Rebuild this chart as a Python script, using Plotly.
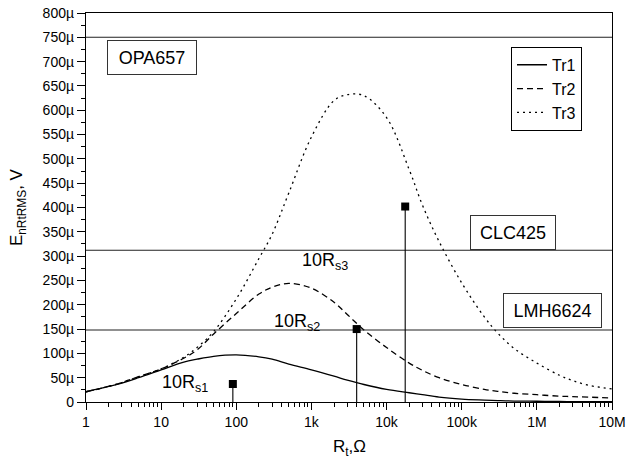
import plotly.graph_objects as go

# ---- data ----
rt = [1, 2, 3, 5, 10, 20, 30, 50, 100, 200, 300, 500, 1e3, 2e3, 3e3, 5e3,
      1e4, 2e4, 3e4, 5e4, 1e5, 2e5, 3e5, 5e5, 1e6, 2e6, 3e6, 5e6, 1e7]
tr1 = [21, 32, 39, 50, 66, 82, 88, 94, 97, 93, 88, 78, 66, 53, 45, 36,
       26, 19, 15, 10, 6, 4, 3, 2, 1.5, 1, 0.8, 0.6, 0.5]
tr2 = [21, 32, 40, 52, 68, 90, 107, 140, 182, 222, 236, 244, 234, 205, 180, 148,
       112, 80, 65, 50, 36, 26, 22, 18, 15, 12, 11, 10, 8]
tr3 = [21, 32, 40, 52, 68, 92, 112, 145, 212, 295, 345, 430, 545, 620, 632, 630,
       585, 478, 405, 330, 245, 175, 142, 110, 80, 55, 44, 34, 27]

ref_levels = [750, 312, 148]
ref_names = ["OPA657", "CLC425", "LMH6624"]

rs_x = [90, 4000, 17700]
rs_y = [37, 150, 402]
rs_labels = ["10R<sub>s1</sub>", "10R<sub>s2</sub>", "10R<sub>s3</sub>"]

x_tickvals = [1, 10, 100, 1e3, 1e4, 1e5, 1e6, 1e7]
x_ticktext = ["1", "10", "100", "1k", "10k", "100k", "1M", "10M"]
y_tickvals = list(range(0, 801, 50))
y_ticktext = ["0"] + [f"{v}µ" for v in y_tickvals[1:]]

FONT = "Liberation Sans, Arial, sans-serif"

fig = go.Figure()

fig.add_trace(go.Scatter(x=rt, y=tr1, name="Tr1", mode="lines",
                         line=dict(color="black", width=1.3, shape="spline")))
fig.add_trace(go.Scatter(x=rt, y=tr2, name="Tr2", mode="lines",
                         line=dict(color="black", width=1.3, dash="6px,4px", shape="spline")))
fig.add_trace(go.Scatter(x=rt, y=tr3, name="Tr3", mode="lines",
                         line=dict(color="black", width=1.3, dash="2px,4px", shape="spline")))

# reference horizontal lines
for lvl in ref_levels:
    fig.add_trace(go.Scatter(x=[x_tickvals[0], x_tickvals[-1]], y=[lvl, lvl], mode="lines",
                             line=dict(color="#222", width=1.1), showlegend=False,
                             hoverinfo="skip"))

# stems + markers
sx, sy = [], []
for xv, yv in zip(rs_x, rs_y):
    sx += [xv, xv, None]
    sy += [0, yv, None]
fig.add_trace(go.Scatter(x=sx, y=sy, mode="lines", line=dict(color="black", width=1.1),
                         showlegend=False, hoverinfo="skip"))
fig.add_trace(go.Scatter(x=rs_x, y=rs_y, mode="markers",
                         marker=dict(symbol="square", size=8, color="black"),
                         showlegend=False))

# box labels (paper positions)
box_pos = [(0.1255, 0.886, 86), (0.8127, 0.4357, 82), (0.887, 0.2365, 95)]
for name, (px, py, w) in zip(ref_names, box_pos):
    fig.add_annotation(x=px, y=py, xref="paper", yref="paper", text=name,
                       xanchor="center", yanchor="middle",
                       showarrow=False, font=dict(family=FONT, size=18, color="black"),
                       bordercolor="#333", borderwidth=1, borderpad=1,
                       width=w, height=31, bgcolor="white")

rs_pos = [(0.188, 0.047), (0.402, 0.204), (0.455, 0.360)]
for lab, (px, py) in zip(rs_labels, rs_pos):
    fig.add_annotation(x=px, y=py, xref="paper", yref="paper", text=lab,
                       xanchor="center", yanchor="middle",
                       showarrow=False, font=dict(family=FONT, size=18, color="black"))

# axis titles
fig.add_annotation(x=0.5, y=-0.118, xref="paper", yref="paper", text="R<sub>t</sub>,Ω",
                   xanchor="center", yanchor="middle", showarrow=False,
                   font=dict(family=FONT, size=17, color="black"))
fig.add_annotation(x=-0.13, y=0.5, xref="paper", yref="paper", text="E<sub>nRtRMS</sub>, V",
                   xanchor="center", yanchor="middle", showarrow=False, textangle=-90,
                   font=dict(family=FONT, size=17, color="black"))

fig.update_layout(
    width=626, height=464,
    margin=dict(l=86, r=14, t=13, b=62, autoexpand=False),
    paper_bgcolor="white", plot_bgcolor="white",
    font=dict(family=FONT, size=14, color="black"),
    showlegend=True,
    legend=dict(x=0.808, y=0.913, xanchor="left", yanchor="top",
                bordercolor="black", borderwidth=1, bgcolor="white",
                font=dict(family=FONT, size=16), tracegroupgap=0,
                itemwidth=30),
)
fig.update_xaxes(type="log", range=[0, 7], tickvals=x_tickvals, ticktext=x_ticktext,
                 ticks="outside", ticklen=7, tickwidth=1.2, tickcolor="black",
                 minor=dict(ticks="outside", ticklen=4, tickcolor="black", dtick="D1",
                            showgrid=False),
                 showline=True, linecolor="black", linewidth=1.3, mirror=True,
                 showgrid=False, zeroline=False, automargin=False)
fig.update_yaxes(range=[0, 800], tickvals=y_tickvals, ticktext=y_ticktext,
                 ticks="outside", ticklen=8, tickwidth=1.2, tickcolor="black",
                 minor=dict(ticks="outside", ticklen=4, tickcolor="black", dtick=25,
                            showgrid=False),
                 showline=True, linecolor="black", linewidth=1.3, mirror=True,
                 showgrid=False, zeroline=False, automargin=False)

fig.write_html("out.html", config={"displayModeBar": False},
               post_script="document.body.style.margin='0';")
